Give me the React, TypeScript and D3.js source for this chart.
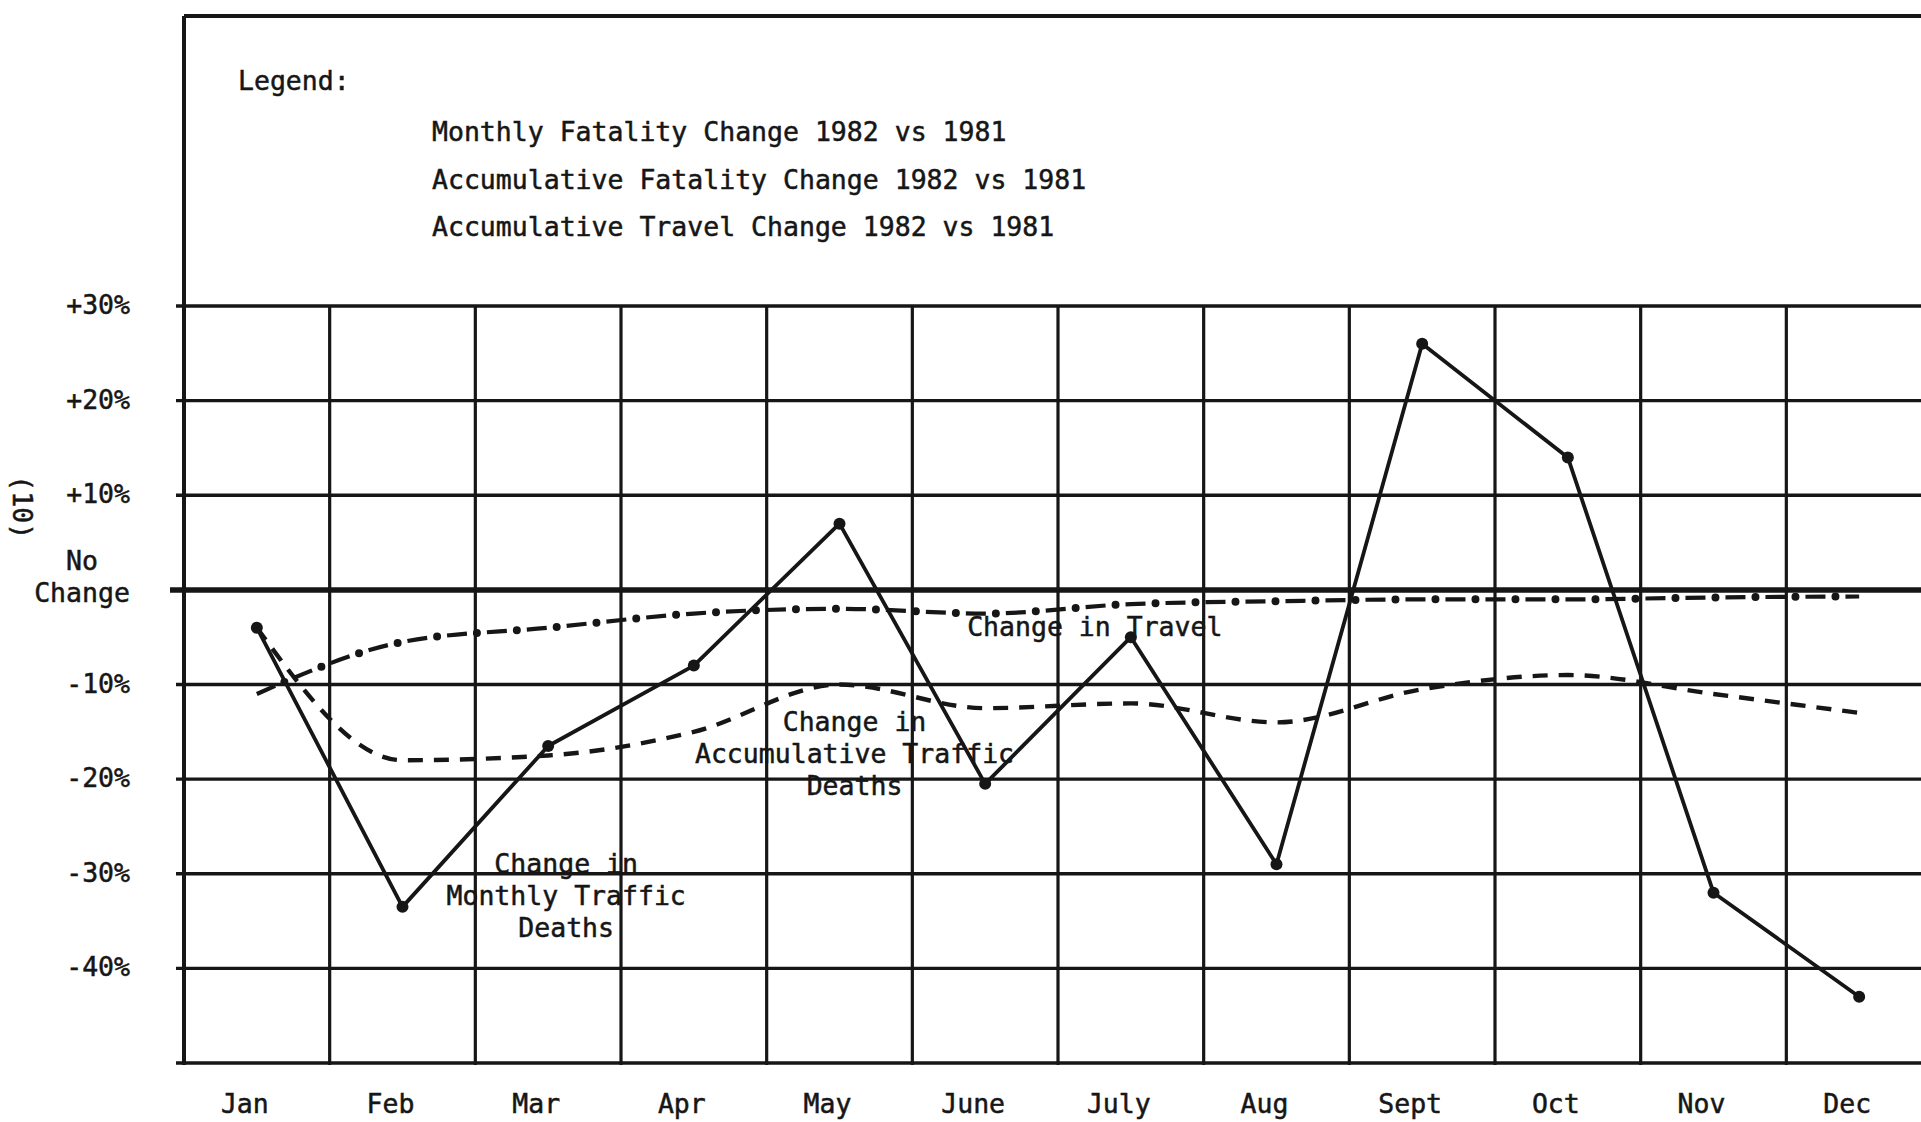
import React, { useEffect, useRef } from 'react';
import * as d3 from 'd3';

// chart data
const months = ['Jan', 'Feb', 'Mar', 'Apr', 'May', 'June', 'July', 'Aug', 'Sept', 'Oct', 'Nov', 'Dec'];
const monthlyFatality = [-4, -33.5, -16.5, -8, 7, -20.5, -5, -29, 26, 14, -32, -43];
const accumFatality = [-4, -18, -17.5, -15, -10, -12.5, -12, -14, -10.5, -9, -11, -13];
const accumTravel = [-11, -5.5, -4, -2.5, -2, -2.5, -1.5, -1.2, -1, -1, -0.8, -0.7];

const yGrid = [30, 20, 10, 0, -10, -20, -30, -40, -50];
const yTicks = [30, 20, 10, 0, -10, -20, -30, -40];
const yTickLabels = ['+30%', '+20%', '+10%', 'No\nChange', '-10%', '-20%', '-30%', '-40%'];

const legendTitle = 'Legend:';
const legendItems = [
  'Monthly Fatality Change 1982 vs 1981',
  'Accumulative Fatality Change 1982 vs 1981',
  'Accumulative Travel Change 1982 vs 1981',
];

// in-chart annotations (month anchor + value for the first baseline)
const annotations = [
  { lines: ['Change in Travel'], month: 'June', value: -4.9, dx: -18, anchor: 'start' },
  { lines: ['Change in', 'Accumulative Traffic', 'Deaths'], month: 'May', value: -14.9, dx: 15, anchor: 'middle' },
  { lines: ['Change in', 'Monthly Traffic', 'Deaths'], month: 'Mar', value: -29.9, dx: 18, anchor: 'middle' },
];

const W = 1921;
const H = 1122;
const FONT = "'DejaVu Sans Mono', 'Liberation Mono', monospace";
const INK = '#161616';

const App: React.FC = () => {
  const svgRef = useRef<SVGSVGElement>(null);

  useEffect(() => {
    if (!svgRef.current) return;
    const svg = d3.select(svgRef.current);
    svg.selectAll('*').remove();

    const left = 184;
    const right = 1932; // right frame falls just outside the page
    const frameTop = 16;

    const x = d3.scaleBand<string>().domain(months).range([left, right]).padding(0);
    const y = d3.scaleLinear().domain([30, -50]).range([306, 1063]);
    const cx = (m: string) => (x(m) as number) + x.bandwidth() / 2;

    svg.append('rect').attr('width', W).attr('height', H).style('fill', '#fff');

    const grid = svg.append('g');

    // horizontal grid
    grid
      .selectAll('.hline')
      .data(yGrid)
      .enter()
      .append('line')
      .attr('x1', (d) => (d === 0 ? left - 14 : left - 8))
      .attr('x2', W + 20)
      .attr('y1', (d) => y(d))
      .attr('y2', (d) => y(d))
      .style('stroke', INK)
      .style('stroke-width', (d) => (d === 0 ? 5.5 : 3.4));

    // vertical grid (month boundaries)
    grid
      .selectAll('.vline')
      .data(months.slice(1).concat(['__end']))
      .enter()
      .append('line')
      .attr('x1', (d) => (d === '__end' ? right : (x(d) as number)))
      .attr('x2', (d) => (d === '__end' ? right : (x(d) as number)))
      .attr('y1', y(30))
      .attr('y2', y(-50) + 2)
      .style('stroke', INK)
      .style('stroke-width', 3.2);

    // frame: left border + top border
    grid
      .append('line')
      .attr('x1', left)
      .attr('x2', left)
      .attr('y1', frameTop)
      .attr('y2', y(-50) + 2)
      .style('stroke', INK)
      .style('stroke-width', 4);
    grid
      .append('line')
      .attr('x1', left)
      .attr('x2', W + 20)
      .attr('y1', frameTop)
      .attr('y2', frameTop)
      .style('stroke', INK)
      .style('stroke-width', 4);

    const txt = (sel: d3.Selection<SVGTextElement, any, any, any>) =>
      sel
        .style('font-family', FONT)
        .style('font-size', '26.5px')
        .style('fill', INK)
        .style('stroke', INK)
        .style('stroke-width', 0.5);

    // legend (text only, as in the original)
    svg.append('text').attr('x', 238).attr('y', 90).call(txt).text(legendTitle);
    svg
      .selectAll('.legend')
      .data(legendItems)
      .enter()
      .append('text')
      .attr('x', 432)
      .attr('y', (_, i) => 141 + i * 47.5)
      .call(txt)
      .text((d) => d);

    // y tick labels
    yTicks.forEach((v, i) => {
      const label = yTickLabels[i];
      if (label.includes('\n')) {
        label.split('\n').forEach((p, j) => {
          svg
            .append('text')
            .attr('x', 82)
            .attr('y', y(v) - 20 + j * 32)
            .attr('text-anchor', 'middle')
            .call(txt)
            .text(p);
        });
      } else {
        svg
          .append('text')
          .attr('x', 130)
          .attr('y', y(v) + 8)
          .attr('text-anchor', 'end')
          .call(txt)
          .text(label);
      }
    });

    // rotated "(10)" marker on the far left
    svg
      .append('text')
      .attr('transform', `translate(13, ${y(10) + 12}) rotate(90)`)
      .attr('text-anchor', 'middle')
      .call(txt)
      .text('(10)');

    // month labels
    svg
      .selectAll('.month')
      .data(months)
      .enter()
      .append('text')
      .attr('x', (d) => cx(d) - 12)
      .attr('y', 1113)
      .attr('text-anchor', 'middle')
      .call(txt)
      .text((d) => d);

    const plot = svg.append('g');

    const smooth = d3
      .line<number>()
      .x((_, i) => cx(months[i]))
      .y((d) => y(d))
      .curve(d3.curveMonotoneX);

    // accumulative travel: dash + dot
    plot
      .append('path')
      .attr('d', smooth(accumTravel))
      .style('fill', 'none')
      .style('stroke', INK)
      .style('stroke-width', 4.2)
      .style('stroke-dasharray', '20 20');
    plot
      .append('path')
      .attr('d', smooth(accumTravel))
      .style('fill', 'none')
      .style('stroke', INK)
      .style('stroke-width', 8)
      .style('stroke-linecap', 'round')
      .style('stroke-dasharray', '0 40')
      .style('stroke-dashoffset', 10);

    // accumulative fatality: dashed
    plot
      .append('path')
      .attr('d', smooth(accumFatality))
      .style('fill', 'none')
      .style('stroke', INK)
      .style('stroke-width', 4.4)
      .style('stroke-dasharray', '15 11');

    // monthly fatality: solid with dots
    const straight = d3
      .line<number>()
      .x((_, i) => cx(months[i]))
      .y((d) => y(d));

    plot
      .append('path')
      .attr('d', straight(monthlyFatality))
      .style('fill', 'none')
      .style('stroke', INK)
      .style('stroke-width', 3.8)
      .style('stroke-linejoin', 'round');

    plot
      .selectAll('.dot')
      .data(monthlyFatality)
      .enter()
      .append('circle')
      .attr('cx', (_, i) => cx(months[i]))
      .attr('cy', (d) => y(d))
      .attr('r', 6)
      .style('fill', INK);

    // annotations
    annotations.forEach((a) => {
      a.lines.forEach((line, j) => {
        svg
          .append('text')
          .attr('x', cx(a.month) + a.dx)
          .attr('y', y(a.value) + j * 32)
          .attr('text-anchor', a.anchor)
          .call(txt)
          .text(line);
      });
    });
  }, []);

  return (
    <svg
      ref={svgRef}
      width={W}
      height={H}
      style={{ position: 'absolute', left: 0, top: 0, display: 'block', overflow: 'hidden' }}
    />
  );
};

export default App;
